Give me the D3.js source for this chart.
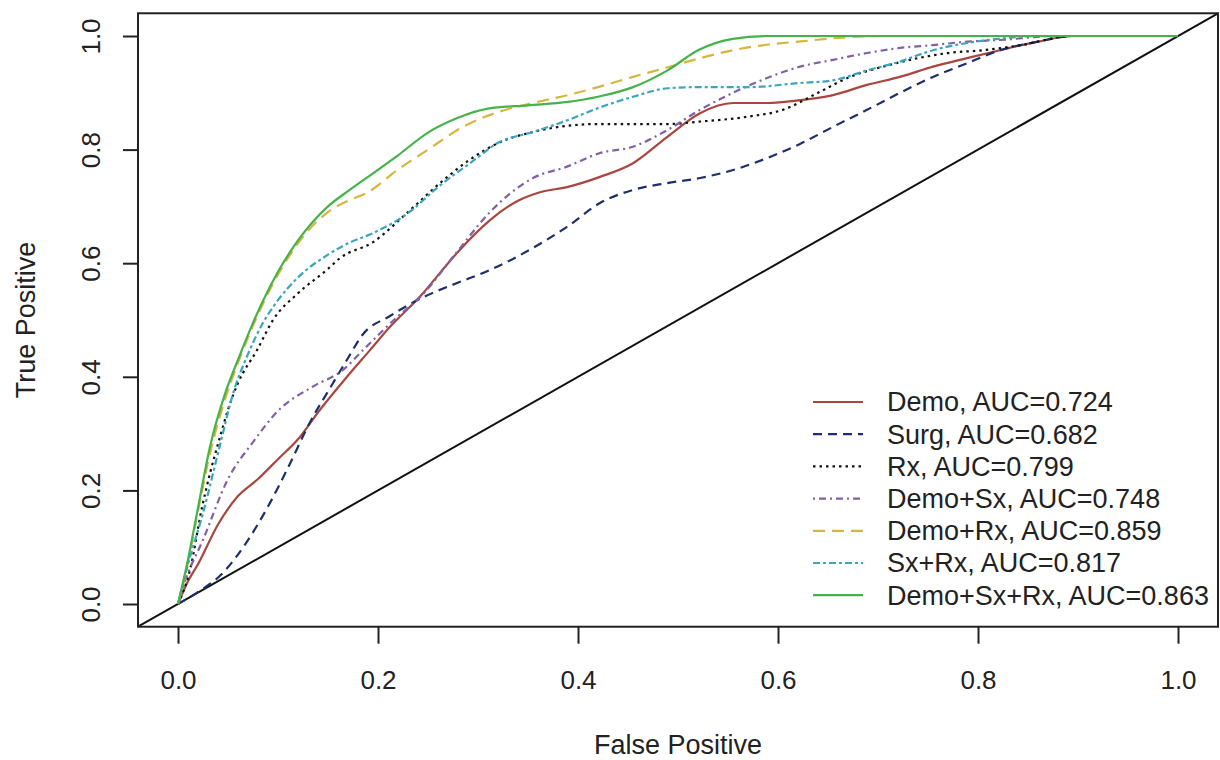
<html>
<script src='https://cdn.jsdelivr.net/npm/d3@7'></script>
<style>
body {margin: 0; background: white; font-family: "Liberation Sans", Arial, sans-serif;}
text {fill: #222;}
.curve {fill: none; stroke-width: 2.2;}
</style>
<body>
<svg width=1220 height=760></svg>
<script>

// ROC points [false positive, true positive]
var demo = [[0,0],[0.01,0.04],[0.02,0.07],[0.04,0.14],[0.06,0.19],[0.08,0.22],[0.1,0.255],[0.12,0.29],[0.142,0.342],[0.169,0.40],[0.192,0.447],[0.212,0.488],[0.245,0.547],[0.262,0.583],[0.279,0.618],[0.312,0.676],[0.34,0.71],[0.362,0.725],[0.389,0.734],[0.422,0.752],[0.455,0.776],[0.489,0.822],[0.522,0.864],[0.555,0.882],[0.589,0.882],[0.622,0.887],[0.655,0.896],[0.689,0.914],[0.722,0.928],[0.755,0.946],[0.789,0.961],[0.822,0.975],[0.86,0.99],[0.895,1],[1,1]];
var surg = [[0,0],[0.019,0.02],[0.045,0.055],[0.069,0.11],[0.092,0.178],[0.11,0.24],[0.132,0.32],[0.152,0.38],[0.169,0.43],[0.185,0.475],[0.212,0.507],[0.245,0.54],[0.279,0.565],[0.312,0.588],[0.355,0.627],[0.389,0.664],[0.422,0.706],[0.455,0.729],[0.489,0.741],[0.522,0.75],[0.555,0.764],[0.589,0.785],[0.622,0.81],[0.655,0.84],[0.689,0.87],[0.722,0.90],[0.755,0.928],[0.789,0.952],[0.822,0.975],[0.86,0.99],[0.895,1],[1,1]];
var rx = [[0,0],[0.012,0.06],[0.024,0.17],[0.032,0.23],[0.042,0.294],[0.05,0.342],[0.06,0.389],[0.079,0.447],[0.095,0.5],[0.12,0.547],[0.15,0.59],[0.162,0.609],[0.195,0.637],[0.23,0.69],[0.262,0.741],[0.29,0.78],[0.322,0.813],[0.355,0.831],[0.39,0.842],[0.42,0.845],[0.49,0.845],[0.52,0.849],[0.57,0.858],[0.605,0.87],[0.64,0.90],[0.672,0.928],[0.705,0.946],[0.74,0.961],[0.77,0.97],[0.805,0.975],[0.84,0.983],[0.895,1],[1,1]];
var demoSx = [[0,0],[0.005,0.03],[0.025,0.113],[0.05,0.22],[0.075,0.285],[0.1,0.34],[0.135,0.383],[0.165,0.412],[0.185,0.447],[0.219,0.505],[0.242,0.54],[0.279,0.62],[0.312,0.69],[0.355,0.75],[0.389,0.77],[0.422,0.794],[0.455,0.805],[0.489,0.834],[0.522,0.87],[0.555,0.90],[0.589,0.926],[0.622,0.946],[0.655,0.958],[0.689,0.97],[0.722,0.979],[0.755,0.984],[0.789,0.99],[0.822,0.993],[0.88,1],[1,1]];
var demoRx = [[0,0],[0.009,0.065],[0.019,0.155],[0.032,0.265],[0.047,0.36],[0.06,0.425],[0.075,0.49],[0.1,0.58],[0.12,0.635],[0.15,0.69],[0.17,0.71],[0.19,0.725],[0.22,0.765],[0.25,0.80],[0.285,0.84],[0.32,0.866],[0.355,0.882],[0.39,0.896],[0.42,0.91],[0.455,0.928],[0.49,0.945],[0.52,0.96],[0.555,0.975],[0.59,0.985],[0.62,0.99],[0.67,0.998],[0.7,1],[1,1]];
var sxRx = [[0,0],[0.01,0.07],[0.025,0.16],[0.042,0.28],[0.055,0.37],[0.07,0.44],[0.085,0.495],[0.1,0.535],[0.12,0.575],[0.15,0.615],[0.17,0.635],[0.195,0.653],[0.23,0.688],[0.26,0.734],[0.295,0.78],[0.32,0.812],[0.355,0.831],[0.39,0.852],[0.42,0.873],[0.455,0.893],[0.49,0.908],[0.52,0.91],[0.57,0.91],[0.62,0.917],[0.655,0.922],[0.69,0.94],[0.72,0.954],[0.755,0.975],[0.79,0.988],[0.82,0.995],[0.86,1],[1,1]];
var demoSxRx = [[0,0],[0.009,0.07],[0.019,0.16],[0.032,0.277],[0.047,0.37],[0.06,0.43],[0.075,0.495],[0.1,0.585],[0.12,0.64],[0.15,0.70],[0.17,0.727],[0.19,0.752],[0.22,0.79],[0.25,0.83],[0.28,0.856],[0.31,0.872],[0.35,0.878],[0.39,0.884],[0.42,0.893],[0.455,0.91],[0.49,0.94],[0.52,0.975],[0.555,0.995],[0.59,1],[1,1]];

var names = ["Demo, AUC=0.724","Surg, AUC=0.682","Rx, AUC=0.799","Demo+Sx, AUC=0.748","Demo+Rx, AUC=0.859","Sx+Rx, AUC=0.817","Demo+Sx+Rx, AUC=0.863"];
var colors = ["#a8463f","#1f2f6b","#111111","#7f62a6","#d6b640","#3aa6bd","#45b34a"];
var dashes = ["none","9,6","2.5,4","2,4,7,4","12,7","7,3,3,3","none"];
var ticks = [0,0.2,0.4,0.6,0.8,1.0];

var series = [demo, surg, rx, demoSx, demoRx, sxRx, demoSxRx];

var x = d3.scaleLinear().domain([0,1]).range([178,1178]);
var y = d3.scaleLinear().domain([0,1]).range([604,36]);
var svg = d3.select('svg');

// diagonal reference, drawn across the whole box
svg.append('line')
  .attr('x1', x(-0.04)).attr('y1', y(-0.04))
  .attr('x2', x(1.04)).attr('y2', y(1.04))
  .attr('stroke', '#111').attr('stroke-width', 2);

var line = d3.line()
  .x(function(d) { return x(d[0]); })
  .y(function(d) { return y(d[1]); })
  .curve(d3.curveMonotoneX);

series.forEach(function(s, i) {
  svg.append('path')
    .datum(s)
    .attr('class', 'curve')
    .attr('d', line)
    .attr('stroke', colors[i])
    .attr('stroke-width', i == 2 ? 2.6 : 2.2)
    .attr('stroke-dasharray', dashes[i]);
});

// box
svg.append('rect')
  .attr('x', x(-0.04)).attr('y', y(1.04))
  .attr('width', x(1.04) - x(-0.04))
  .attr('height', y(-0.04) - y(1.04))
  .attr('fill', 'none').attr('stroke', '#222').attr('stroke-width', 2);

var xAxis = svg.append('g')
  .attr('transform', 'translate(0,' + y(-0.04) + ')')
  .call(d3.axisBottom(x).tickValues(ticks).tickFormat(d3.format('.1f')).tickSize(17).tickPadding(27));
xAxis.select('.domain').remove();

var yAxis = svg.append('g')
  .attr('transform', 'translate(' + x(-0.04) + ',0)')
  .call(d3.axisLeft(y).tickValues(ticks).tickFormat(d3.format('.1f')).tickSize(15));
yAxis.select('.domain').remove();

svg.selectAll('.tick line').attr('stroke', '#222').attr('stroke-width', 2);
svg.selectAll('.tick text')
  .attr('font-family', '"Liberation Sans", Arial, sans-serif')
  .attr('font-size', 26).attr('fill', '#222');

yAxis.selectAll('.tick text')
  .attr('transform', 'rotate(-90,-47,0)')
  .attr('x', -47).attr('dy', '0.35em').attr('text-anchor', 'middle');

svg.append('text')
  .attr('x', 678).attr('y', 754)
  .attr('text-anchor', 'middle')
  .attr('font-size', 27)
  .text('False Positive');

svg.append('text')
  .attr('transform', 'translate(35,320) rotate(-90)')
  .attr('text-anchor', 'middle')
  .attr('font-size', 27)
  .text('True Positive');

// legend, no border
var legend = svg.append('g');
names.forEach(function(n, i) {
  var ly = 402 + 32.2 * i;
  legend.append('line')
    .attr('x1', 813).attr('x2', 863)
    .attr('y1', ly).attr('y2', ly)
    .attr('stroke', colors[i]).attr('stroke-width', 2.2)
    .attr('stroke-dasharray', dashes[i]);
  legend.append('text')
    .attr('x', 887).attr('y', ly)
    .attr('dy', '0.35em')
    .attr('font-size', 27)
    .text(n);
});

</script>
</body>
</html>
